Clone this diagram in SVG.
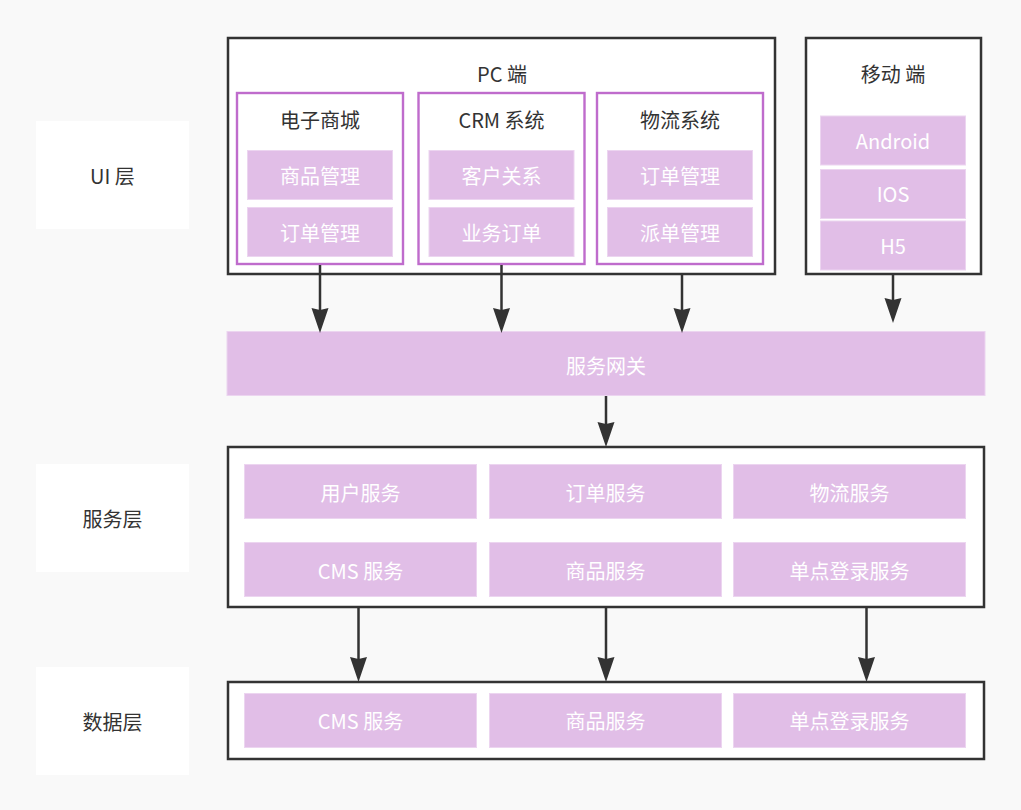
<svg xmlns="http://www.w3.org/2000/svg" width="1021" height="810" viewBox="0 0 1021 810">
<style>
text{font-family:"Noto Sans CJK SC","Microsoft YaHei",sans-serif;font-size:20px;text-anchor:middle;dominant-baseline:central}
.dark{fill:#333}
.light{fill:#ffffff}
.lbl{fill:#ffffff}
.frame{fill:#ffffff;stroke:#333333;stroke-width:2.5}
.sub{fill:#ffffff;stroke:#bf6ccc;stroke-width:2.4}
.item{fill:#e1bee7;stroke:#ecd5f0;stroke-width:1}
.conn{stroke:#333333;stroke-width:2.5;fill:none}
</style>
<defs>
<marker id="arr" markerUnits="userSpaceOnUse" markerWidth="26" markerHeight="18" refX="4" refY="8.5" orient="auto" viewBox="0 0 26 17">
<path d="M0,0 L2,8.5 L0,17 L25,8.5 Z" fill="#333333"/>
</marker>
</defs>
<rect x="0" y="0" width="1021" height="810" fill="#f9f9f9"/>

<g id="label-ui"><rect class="lbl" x="36" y="121" width="153" height="108"/><text class="dark" x="112.5" y="175">UI 层</text></g>
<g id="label-service"><rect class="lbl" x="36" y="464" width="153" height="108"/><text class="dark" x="112.5" y="518">服务层</text></g>
<g id="label-data"><rect class="lbl" x="36" y="667" width="153" height="108"/><text class="dark" x="112.5" y="721">数据层</text></g>

<g id="pc">
<rect class="frame" x="228" y="38" width="547" height="236"/>
<text class="dark" x="502" y="73">PC 端</text>
</g>
<g id="shop">
<rect class="sub" x="237" y="93" width="166" height="171"/>
<text class="dark" x="320" y="119">电子商城</text>
<rect class="item" x="247.5" y="150.5" width="145" height="49"/><text class="light" x="320" y="175">商品管理</text>
<rect class="item" x="247.5" y="207.5" width="145" height="49"/><text class="light" x="320" y="232">订单管理</text>
</g>
<g id="crm">
<rect class="sub" x="418.5" y="93" width="166" height="171"/>
<text class="dark" x="501.5" y="119">CRM 系统</text>
<rect class="item" x="429" y="150.5" width="145" height="49"/><text class="light" x="501.5" y="175">客户关系</text>
<rect class="item" x="429" y="207.5" width="145" height="49"/><text class="light" x="501.5" y="232">业务订单</text>
</g>
<g id="logistics">
<rect class="sub" x="597" y="93" width="166" height="171"/>
<text class="dark" x="680" y="119">物流系统</text>
<rect class="item" x="607.5" y="150.5" width="145" height="49"/><text class="light" x="680" y="175">订单管理</text>
<rect class="item" x="607.5" y="207.5" width="145" height="49"/><text class="light" x="680" y="232">派单管理</text>
</g>
<g id="mobile">
<rect class="frame" x="806" y="38" width="175" height="236"/>
<text class="dark" x="893" y="73">移动 端</text>
<rect class="item" x="820.5" y="116" width="145" height="49"/><text class="light" x="893" y="140">Android</text>
<rect class="item" x="820.5" y="169.5" width="145" height="49"/><text class="light" x="893" y="193">IOS</text>
<rect class="item" x="820.5" y="221" width="145" height="49"/><text class="light" x="893" y="245">H5</text>
</g>

<g id="gateway">
<rect class="item" x="227" y="331.5" width="758" height="64"/>
<text class="light" x="606" y="365">服务网关</text>
</g>

<g id="service">
<rect class="frame" x="228" y="447" width="756" height="160"/>
<rect class="item" x="244.5" y="464.5" width="232" height="54"/><text class="light" x="360.5" y="492">用户服务</text>
<rect class="item" x="489.5" y="464.5" width="232" height="54"/><text class="light" x="605.5" y="492">订单服务</text>
<rect class="item" x="733.5" y="464.5" width="232" height="54"/><text class="light" x="849.5" y="492">物流服务</text>
<rect class="item" x="244.5" y="542.5" width="232" height="54"/><text class="light" x="360.5" y="570">CMS 服务</text>
<rect class="item" x="489.5" y="542.5" width="232" height="54"/><text class="light" x="605.5" y="570">商品服务</text>
<rect class="item" x="733.5" y="542.5" width="232" height="54"/><text class="light" x="849.5" y="570">单点登录服务</text>
</g>

<g id="data">
<rect class="frame" x="228" y="682" width="756" height="77"/>
<rect class="item" x="244.5" y="693.5" width="232" height="54"/><text class="light" x="360.5" y="720">CMS 服务</text>
<rect class="item" x="489.5" y="693.5" width="232" height="54"/><text class="light" x="605.5" y="720">商品服务</text>
<rect class="item" x="733.5" y="693.5" width="232" height="54"/><text class="light" x="849.5" y="720">单点登录服务</text>
</g>

<g id="connectors">
<path class="conn" d="M320,265 V312" marker-end="url(#arr)"/>
<path class="conn" d="M501.5,265 V312" marker-end="url(#arr)"/>
<path class="conn" d="M682,275 V312" marker-end="url(#arr)"/>
<path class="conn" d="M893,275 V302" marker-end="url(#arr)"/>
<path class="conn" d="M606,396 V426" marker-end="url(#arr)"/>
<path class="conn" d="M358.5,608 V661" marker-end="url(#arr)"/>
<path class="conn" d="M606,608 V661" marker-end="url(#arr)"/>
<path class="conn" d="M866.5,608 V661" marker-end="url(#arr)"/>
</g>
</svg>
